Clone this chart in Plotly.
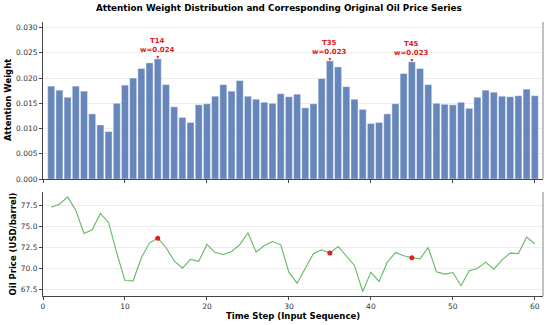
import plotly.graph_objects as go

steps = list(range(1, 61))
attention = [0.0184, 0.0176, 0.0162, 0.0184, 0.0174, 0.0129, 0.0107, 0.0094, 0.0150, 0.0186,
             0.0200, 0.0219, 0.0230, 0.0238, 0.0187, 0.0143, 0.0122, 0.0112, 0.0147, 0.0149,
             0.0164, 0.0187, 0.0174, 0.0195, 0.0164, 0.0158, 0.0152, 0.0150, 0.0169, 0.0163,
             0.0168, 0.0141, 0.0149, 0.0199, 0.0234, 0.0222, 0.0183, 0.0158, 0.0138, 0.0110,
             0.0112, 0.0129, 0.0149, 0.0209, 0.0232, 0.0219, 0.0187, 0.0150, 0.0148, 0.0147,
             0.0152, 0.0140, 0.0162, 0.0176, 0.0172, 0.0164, 0.0163, 0.0165, 0.0178, 0.0165]
oil_price = [77.34, 77.70, 78.57, 76.98, 74.20, 74.64, 76.59, 75.52, 71.87, 68.61,
             68.57, 71.31, 73.10, 73.65, 72.54, 70.95, 70.08, 71.11, 70.89, 72.90,
             71.94, 71.70, 72.06, 72.86, 74.29, 71.98, 72.78, 73.25, 72.86, 69.60,
             68.29, 70.08, 71.83, 72.26, 71.87, 72.66, 71.55, 70.40, 67.30, 69.60,
             68.50, 70.79, 71.94, 71.55, 71.31, 71.19, 72.54, 69.64, 69.37, 69.56,
             67.98, 69.76, 70.04, 70.79, 69.96, 71.07, 71.87, 71.83, 73.77, 72.98]
top_steps = [14, 35, 45]
top_labels = ["0.024", "0.023", "0.023"]

FONT = "DejaVu Sans"
TICKC = "#333333"
fig = go.Figure()

fig.add_trace(go.Bar(x=steps, y=attention, width=0.86,
                     marker=dict(color="rgba(76,114,176,0.85)",
                                 line=dict(color="rgba(255,255,255,0.7)", width=0.6)),
                     xaxis="x", yaxis="y", showlegend=False))
fig.add_trace(go.Scatter(x=steps, y=oil_price, mode="lines",
                         line=dict(color="rgb(98,186,98)", width=1.1),
                         xaxis="x2", yaxis="y2", showlegend=False))
fig.add_trace(go.Scatter(x=top_steps, y=[oil_price[s - 1] for s in top_steps], mode="markers",
                         marker=dict(color="#e02020", size=5),
                         xaxis="x2", yaxis="y2", showlegend=False))

annotations = []
for s, lab in zip(top_steps, top_labels):
    annotations.append(dict(x=s, y=attention[s - 1], xref="x", yref="y",
                            text=f"<b>T{s}<br>w={lab}</b>", showarrow=True,
                            arrowhead=2, arrowsize=0.7, arrowwidth=0.8, arrowcolor="#e02020",
                            ax=0, ay=-13, font=dict(family=FONT, size=7, color="#e02020"),
                            align="center"))

annotations += [
    dict(text="<b>Attention Weight</b>", xref="paper", yref="paper", x=0, y=(1 + 0.427) / 2,
         xanchor="center", yanchor="middle", xshift=-35.5, textangle=-90, showarrow=False,
         font=dict(family=FONT, size=8.5, color="black")),
    dict(text="<b>Oil Price (USD/barrel)</b>", xref="paper", yref="paper", x=0, y=0.3796 / 2,
         xanchor="center", yanchor="middle", xshift=-30.5, textangle=-90, showarrow=False,
         font=dict(family=FONT, size=8.5, color="black")),
    dict(text="<b>Time Step (Input Sequence)</b>", xref="paper", yref="paper", x=0.5, y=0,
         xanchor="center", yanchor="middle", yshift=-19.5, showarrow=False,
         font=dict(family=FONT, size=8.5, color="black")),
]

common_x = dict(range=[0, 61], dtick=10, tick0=0, showgrid=False, zeroline=False,
                showline=True, linecolor="#444444", linewidth=1, ticks="outside",
                ticklen=3, tickcolor="#444444",
                tickfont=dict(family=FONT, size=7.5, color=TICKC))
common_y = dict(showgrid=True, gridcolor="rgba(0,0,0,0.07)", gridwidth=0.8, zeroline=False,
                showline=True, linecolor="#444444", linewidth=1, ticks="outside",
                ticklen=3, tickcolor="#444444",
                tickfont=dict(family=FONT, size=7.5, color=TICKC))

fig.update_layout(
    width=550, height=325,
    margin=dict(l=43, r=7, t=22, b=29),
    paper_bgcolor="white", plot_bgcolor="white",
    title=dict(text="<b>Attention Weight Distribution and Corresponding Original Oil Price Series</b>",
               x=0.507, xanchor="center", y=1 - 8 / 325, yanchor="middle", yref="container",
               font=dict(family=FONT, size=8.8, color="black")),
    xaxis=dict(domain=[0, 1], anchor="y", showticklabels=False, **common_x),
    yaxis=dict(domain=[0.427, 1], anchor="x", range=[0, 0.0311], dtick=0.005,
               tickformat=".3f", **common_y),
    xaxis2=dict(domain=[0, 1], anchor="y2", matches="x", **common_x),
    yaxis2=dict(domain=[0, 0.3796], anchor="x2", range=[66.76, 79.15], dtick=2.5,
                tick0=67.5, tickformat=".1f", **common_y),
    annotations=annotations,
    bargap=0.1,
    shapes=[
        dict(type="line", xref="paper", yref="paper", x0=1, x1=1, y0=0.427, y1=1,
             line=dict(color="#999999", width=1.2)),
        dict(type="line", xref="paper", yref="paper", x0=1, x1=1, y0=0, y1=0.3796,
             line=dict(color="#999999", width=1.2)),
    ],
)

fig.write_html("out.html", config={"displayModeBar": False},
               post_script="document.body.style.margin='0px';")
